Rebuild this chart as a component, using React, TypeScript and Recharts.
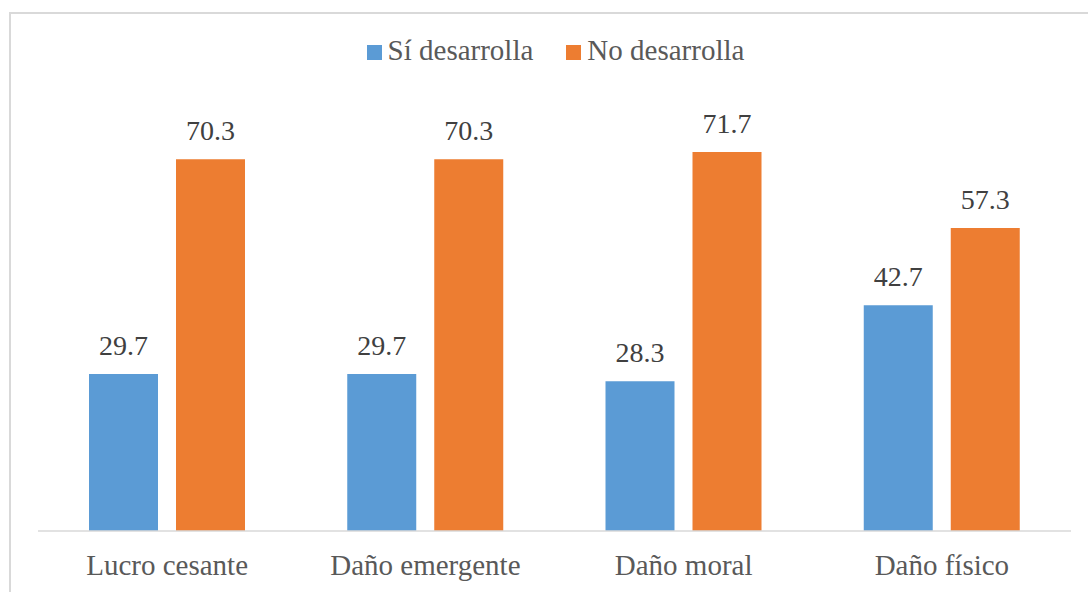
import { BarChart, Bar, XAxis, YAxis, Legend, LabelList } from 'recharts';

const categories = ['Lucro cesante', 'Daño emergente', 'Daño moral', 'Daño físico'];
const siDesarrolla = [29.7, 29.7, 28.3, 42.7];
const noDesarrolla = [70.3, 70.3, 71.7, 57.3];

const data = categories.map((name, i) => ({
  name,
  si: siDesarrolla[i],
  no: noDesarrolla[i],
}));

const FONT = "'Liberation Serif', 'Times New Roman', serif";
const TEXT = '#595959';

const legendItems = [
  { label: 'Sí desarrolla', color: '#5B9BD5' },
  { label: 'No desarrolla', color: '#ED7D31' },
];

const renderLegend = () => (
  <div
    style={{
      display: 'flex',
      justifyContent: 'center',
      alignItems: 'baseline',
      fontFamily: FONT,
      fontSize: 29,
      lineHeight: '29px',
      height: 29,
      color: TEXT,
    }}
  >
    {legendItems.map((it, i) => (
      <div key={it.label} style={{ display: 'flex', alignItems: 'baseline', marginLeft: i ? 33 : 0 }}>
        <span style={{ width: 15, height: 15, background: it.color, marginRight: 6, display: 'inline-block' }} />
        <span>{it.label}</span>
      </div>
    ))}
  </div>
);

export default function App() {
  return (
    <div
      style={{
        position: 'absolute',
        left: 9,
        top: 12,
        width: 1100,
        height: 600,
        border: '2px solid #d9d9d9',
        background: '#fff',
      }}
    >
      <BarChart
        width={1077}
        height={590}
        data={data}
        margin={{ top: 65, right: 17, bottom: 13, left: 27 }}
        barCategoryGap={51}
        barGap={18}
      >
        <Legend
          verticalAlign="top"
          content={renderLegend}
          wrapperStyle={{ top: 22, left: 6, width: 1077 }}
        />
        <XAxis
          dataKey="name"
          height={60}
          tickLine={false}
          tickSize={0}
          tickMargin={23}
          axisLine={{ stroke: '#d9d9d9', strokeWidth: 1.5 }}
          tick={{ fontSize: 29, fontFamily: FONT, fill: TEXT }}
        />
        <YAxis hide domain={[0, 80]} />
        <Bar dataKey="si" fill="#5B9BD5" isAnimationActive={false}>
          <LabelList dataKey="si" position="top" offset={19} fontSize={28} fontFamily={FONT} fill="#404040" />
        </Bar>
        <Bar dataKey="no" fill="#ED7D31" isAnimationActive={false}>
          <LabelList dataKey="no" position="top" offset={19} fontSize={28} fontFamily={FONT} fill="#404040" />
        </Bar>
      </BarChart>
    </div>
  );
}
